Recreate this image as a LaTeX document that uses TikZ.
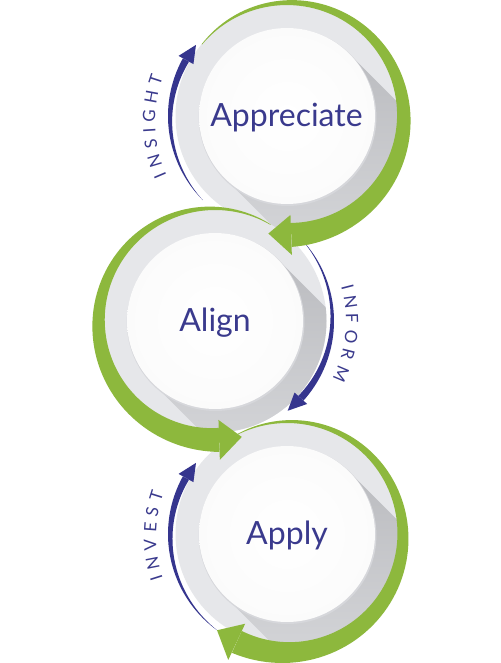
\documentclass[tikz,border=0pt]{standalone}
\usepackage{fontspec}
\setmainfont{Lato}
\usetikzlibrary{calc}
\definecolor{greenc}{HTML}{8DB83D}
\definecolor{bluec}{HTML}{35358E}
\definecolor{ringc}{HTML}{E6E7EA}
\definecolor{shadowc}{HTML}{BBBCC0}
\definecolor{shadowe}{HTML}{D6D7DA}
\definecolor{rimc}{HTML}{D6D7DB}
\definecolor{txtc}{HTML}{3A3A8D}
\tikzset{
  whitedisk/.style={circle, minimum size=176pt, inner sep=0pt, inner color=white, outer color=white!97!gray},
  maintext/.style={font=\fontsize{32}{32}\selectfont, text=txtc, inner sep=0pt, anchor=base},
  arctext/.style={font=\fontsize{17}{17}\selectfont, text=txtc, inner sep=0pt}
}
% #1 centre, #2 start angle, #3 end angle, #4 tip angle
\newcommand{\GreenArrow}[4]{%
  \fill[greenc, shift={(#1)}]
    plot[variable=\t, domain=0:1, samples=90] ({#2+(#3-(#2))*\t}:{111.5+19.5*\t})
    -- plot[variable=\t, domain=1:0, samples=90] ({#2+(#3-(#2))*\t}:{111-4*\t*\t*\t})
    -- cycle;
  \fill[greenc, shift={(#1)}] ({#3}:99) -- ({#4}:119) -- ({#3}:139) -- cycle;
}
% #1 centre, #2 tail angle, #3 base angle, #4 tip angle, #5 outer radius
\newcommand{\BlueArrow}[5]{%
  \fill[bluec, shift={(#1)}]
    plot[variable=\t, domain=0:1, samples=60] ({#2+(#3-(#2))*\t}:{#5})
    -- plot[variable=\t, domain=1:0, samples=60] ({#2+(#3-(#2))*\t}:{#5-7*\t})
    -- cycle;
  \fill[bluec, shift={(#1)}] ({#3}:{#5-12}) -- ({#4}:{#5-3.5}) -- ({#3}:{#5+5}) -- cycle;
}
% #1 centre coordinate, #2 node name
\newcommand{\RingUnit}[2]{%
  \fill[ringc] (#1) circle[radius=111.5];
  \begin{scope}
    \clip (#1) circle[radius=111.5];
    \begin{scope}[shift={(#1)}, rotate=45]
      \shade[top color=shadowc, bottom color=shadowe] (-88,0) rectangle (88,-112);
    \end{scope}
  \end{scope}
  \fill[rimc] ($(#1)+(0.6,-1.2)$) circle[radius=88.8];
  \node[whitedisk] (#2) at (#1) {};
}
% #1 centre, #2 radius, #3 letter/angle pairs, #4 name
\newcommand{\ArcWord}[4]{%
  \foreach \L/\a [count=\i] in {#3} {
    \node[arctext, rotate={\a-90}] (#4-\i) at ($(#1)+({\a}:#2)$) {\L};
  }
}
\begin{document}
\begin{tikzpicture}[x=1pt,y=1pt]
\useasboundingbox (0,0) rectangle (500,663);
\fill[white] (0,0) rectangle (500,663);
\coordinate (c1) at (287,547);
\coordinate (c2) at (215,342);
\coordinate (c3) at (287,129);
\coordinate (l1) at (287,541);
\coordinate (l2) at (215,342);
\coordinate (l3) at (287,126);

\RingUnit{c1}{w1}
\BlueArrow{c1}{225}{151}{142}{119}
\RingUnit{c2}{w2}
\BlueArrow{c2}{44}{-42}{-51}{119}
\RingUnit{c3}{w3}
\GreenArrow{c2}{60}{272}{283}
\GreenArrow{c1}{140}{-88}{-99}
\BlueArrow{c3}{235}{151}{142}{119}
\GreenArrow{c3}{118}{-115}{-126}

\node[maintext] (t1) at (286.5,536) {Appreciate};
\node[maintext] (t2) at (215,331) {Align};
\node[maintext] (t3) at (287,118) {Apply};

\ArcWord{l1}{138}{I/203, N/196.6, S/189.3, I/183.7, G/177.4, H/169.5, T/162.0}{insight}
\ArcWord{l2}{137}{I/14.4, N/8.1, F/1.3, O/-6.8, R/-14.1, M/-22.9}{inform}
\ArcWord{l3}{137}{I/197.5, N/191.1, V/183.3, E/176.1, S/169.4, T/162.6}{invest}
\end{tikzpicture}
\end{document}
